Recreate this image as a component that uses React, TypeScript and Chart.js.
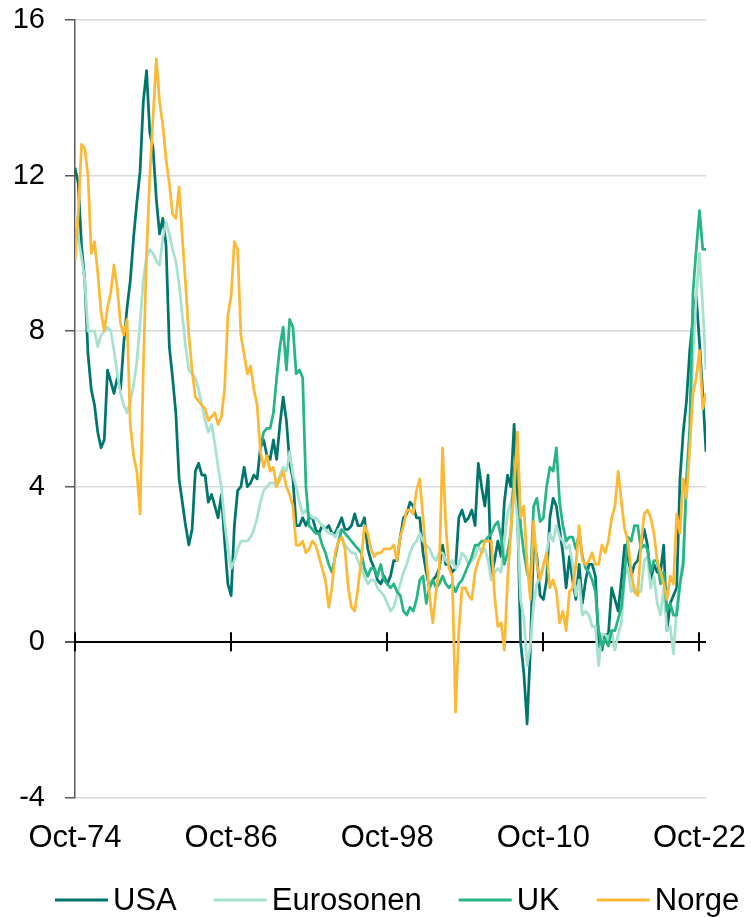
import React, { useEffect, useRef } from "react";
import { Chart, registerables } from "chart.js";

Chart.register(...registerables);

const FONT = '"Liberation Sans", Arial, Helvetica, sans-serif';

// x axis: months counted from Oct-74; series sampled quarterly (Oct, Jan, Apr, Jul)
const tickLabels = ["Oct-74", "Oct-86", "Oct-98", "Oct-10", "Oct-22"];
const tickMonths = [0, 144, 288, 432, 576];
const lastMonth = 582; // Apr-23
const stepMonths = 3;
const startMonth = 0; // Oct-74
const ukStartMonth = 171; // Jan-89

const seriesNames = ["USA", "Eurosonen", "UK", "Norge"];
const seriesColors = ["#00756d", "#a6e1d1", "#26b585", "#fdb935"];

// Inflation, % y/y, quarterly from Oct-74
const usa = [
  12.2, 11.8, 10.2, 9.3,
  7.4, 6.5, 6.1, 5.4,
  5.0, 5.2, 7.0, 6.7,
  6.4, 6.8, 6.5, 7.7,
  8.6, 9.3, 10.4, 11.3,
  12.1, 13.9, 14.7, 13.1,
  12.7, 11.4, 10.5, 10.9,
  10.2, 7.6, 6.8, 5.9,
  4.2, 3.6, 3.0, 2.5,
  2.9, 4.4, 4.6, 4.3,
  4.3, 3.6, 3.8, 3.5,
  3.2, 3.8, 2.6, 1.5,
  1.2, 3.0, 3.9, 4.0,
  4.5, 4.0, 4.1, 4.3,
  4.2, 5.0, 5.2, 4.8,
  4.7, 5.2, 4.7, 5.6,
  6.3, 5.7, 4.6, 4.2,
  3.0, 3.0, 3.2, 3.0,
  3.2, 3.2, 2.9, 2.8,
  3.0, 2.9, 3.0, 2.8,
  2.8, 3.0, 3.2, 2.9,
  2.9, 3.0, 3.3, 3.0,
  3.0, 3.2, 2.4, 2.1,
  1.9, 1.6, 1.5, 1.7,
  1.5, 1.7, 2.1, 2.1,
  2.7, 3.2, 3.3, 3.6,
  3.5, 3.2, 3.2, 2.3,
  1.8, 1.4, 1.6, 1.7,
  1.9, 2.5, 2.0, 2.0,
  1.8, 1.9, 3.2, 3.4,
  3.1, 3.2, 3.4, 3.0,
  4.6, 4.0, 3.5, 4.3,
  1.7, 2.1, 2.6, 2.2,
  3.6, 4.3, 4.0, 5.6,
  3.5, 0.0, -0.8, -2.1,
  -0.2, 2.6, 2.2, 1.2,
  1.1, 1.6, 3.2, 3.7,
  3.5, 2.9, 2.3, 1.4,
  2.2, 1.6, 1.1, 2.0,
  1.0, 1.6, 2.0, 2.0,
  1.7, -0.1, -0.2, 0.2,
  0.2, 1.4, 1.1, 0.8,
  1.6, 2.5, 2.2, 1.7,
  2.0, 2.1, 2.5, 2.9,
  2.5, 1.6, 2.0, 1.8,
  1.8, 2.5, 0.3, 1.0,
  1.2, 1.4, 4.2, 5.4,
  6.2, 7.5, 8.3, 8.9,
  7.7, 6.4, 4.9,
];

const eurosonen = [
  11.0, 10.4, 9.9, 9.3,
  8.0, 8.0, 8.0, 7.6,
  7.9, 8.0, 8.1, 8.0,
  7.5, 6.9, 6.4, 6.1,
  5.9, 6.2, 6.6, 7.2,
  8.2, 9.3, 9.9, 10.1,
  10.0, 9.8, 9.7, 10.4,
  10.8, 10.5, 10.1, 9.8,
  9.2, 8.4, 7.6, 7.0,
  6.9, 6.8, 6.5, 6.1,
  5.7, 5.4, 5.6, 5.1,
  4.5, 4.0, 3.1, 2.4,
  1.9, 2.1, 2.4, 2.6,
  2.6, 2.6, 2.7, 2.9,
  3.2, 3.6, 3.9, 4.0,
  4.1, 4.1, 4.0, 4.3,
  4.5, 4.4, 4.9, 4.3,
  4.0, 3.6, 3.3, 3.4,
  3.3, 3.2, 3.2, 3.1,
  3.0, 2.9, 2.8, 2.8,
  2.7, 2.9, 2.7, 2.5,
  2.4, 2.3, 2.3, 2.1,
  1.9, 1.7, 1.5, 1.6,
  1.6, 1.4, 1.3, 1.2,
  1.0, 0.8, 0.9, 1.2,
  1.5, 1.8, 2.0, 2.3,
  2.5, 2.6, 2.8, 2.6,
  2.5, 2.4, 2.2, 2.1,
  2.3, 2.3, 2.1, 2.0,
  2.1, 1.9, 2.0, 2.3,
  2.2, 2.0, 2.1, 2.2,
  2.5, 2.3, 2.4, 2.1,
  1.6, 1.8, 1.9, 1.8,
  2.6, 3.3, 3.6, 4.0,
  3.2, 1.1, 0.6, -0.6,
  -0.1, 1.0, 1.5, 1.7,
  1.9, 2.3, 2.8, 2.6,
  3.0, 2.7, 2.6, 2.4,
  2.5, 2.0, 1.2, 1.6,
  0.7, 0.8, 0.7, 0.4,
  0.4, -0.6, 0.2, 0.2,
  0.1, 0.3, -0.2, 0.2,
  0.5, 1.7, 1.9, 1.3,
  1.4, 1.3, 1.3, 2.1,
  2.2, 1.4, 1.7, 1.0,
  0.7, 1.4, 0.3, 0.4,
  -0.3, 0.9, 1.6, 2.2,
  4.1, 5.1, 7.4, 8.9,
  10.0, 8.6, 7.0,
];

// UK, quarterly from Jan-89
const uk = [
  5.0, 5.4, 5.5,
  5.5, 5.9, 6.8, 7.6,
  8.1, 7.0, 8.3, 8.1,
  6.9, 7.0, 6.8, 4.0,
  3.0, 2.9, 2.8, 2.8,
  2.5, 2.3, 2.0, 1.8,
  2.2, 2.6, 2.9, 2.8,
  2.7, 2.6, 2.5, 2.4,
  2.3, 1.9, 1.7, 1.9,
  1.9, 1.7, 2.0, 1.6,
  1.5, 1.4, 1.5, 1.3,
  1.2, 0.8, 0.7, 0.9,
  0.8, 1.1, 1.6, 1.7,
  1.0, 1.4, 1.6, 1.4,
  1.5, 1.7, 1.5, 1.4,
  1.5, 1.3, 1.5, 1.6,
  1.8, 2.0, 2.2, 2.5,
  2.5, 2.6, 2.6, 2.7,
  2.8, 3.0, 3.1, 2.7,
  2.0, 2.3, 2.8, 4.4,
  5.0, 3.0, 2.3, 1.8,
  1.5, 3.5, 3.7, 3.1,
  3.2, 4.0, 4.5, 4.4,
  5.0, 3.6, 3.0, 2.6,
  2.7, 2.7, 2.4, 2.8,
  2.2, 1.9, 1.8, 1.6,
  1.3, 0.3, -0.1, 0.1,
  -0.1, 0.3, 0.3, 0.6,
  0.9, 1.8, 2.7, 2.6,
  3.0, 3.0, 2.4, 2.5,
  2.4, 1.8, 2.1, 2.1,
  1.5, 1.8, 0.8, 1.0,
  0.7, 0.7, 1.5, 2.0,
  4.2, 5.5, 9.0, 10.1,
  11.1, 10.1, 10.1,
];

const norge = [
  9.8, 11.0, 12.8, 12.7,
  12.0, 10.0, 10.3, 9.5,
  8.5, 8.0, 8.6, 9.0,
  9.7, 9.1, 8.2, 7.9,
  8.3, 5.6, 4.8, 4.4,
  3.3, 7.0, 10.0, 12.0,
  13.5, 15.0, 13.9, 13.3,
  12.4, 11.8, 11.0, 10.9,
  11.7, 10.4, 9.2, 7.9,
  7.0, 6.3, 6.2, 6.1,
  6.0, 5.7, 5.8, 5.9,
  5.6, 5.8, 6.5, 8.4,
  8.9, 10.3, 10.1, 7.9,
  7.4, 6.9, 7.1, 6.5,
  6.1, 4.9, 4.5, 4.8,
  4.4, 4.5, 4.0, 4.2,
  4.4, 4.0, 3.8, 3.5,
  2.5, 2.5, 2.6, 2.3,
  2.4, 2.6, 2.5, 2.2,
  1.9, 1.6, 0.9, 1.4,
  2.3, 2.6, 2.7, 2.4,
  1.4, 0.9, 0.8, 1.4,
  2.1, 3.0, 2.8, 2.4,
  2.2, 2.3, 2.3, 2.4,
  2.4, 2.4, 2.5, 2.1,
  2.7, 3.0, 3.4, 3.4,
  3.3, 3.9, 4.2, 3.2,
  2.2, 1.2, 0.5, 1.3,
  1.9, 5.0, 3.0, 1.9,
  1.7, -1.8, 0.3, 1.4,
  1.4, 1.2, 1.1, 1.8,
  2.1, 2.3, 2.6, 2.6,
  2.6, 1.2, 0.4, 0.5,
  -0.2, 1.6, 2.9, 3.9,
  5.4, 3.2, 3.5, 2.0,
  1.1, 3.1, 2.0, 1.6,
  2.0, 2.3, 1.4, 1.6,
  1.3, 0.5, 0.8, 0.3,
  1.3, 1.4, 2.0, 3.0,
  2.1, 2.0, 2.1, 2.3,
  2.0, 2.0, 2.5, 2.3,
  2.6, 3.2, 3.5, 4.4,
  3.6, 2.9, 2.6, 1.8,
  1.3, 1.2, 2.5, 3.3,
  3.4, 3.2, 2.8, 2.1,
  1.8, 1.5, 1.1, 1.7,
  1.5, 3.3, 2.8, 4.2,
  3.7, 5.0, 6.4, 6.8,
  7.5, 6.0, 6.4,
];

const toPoints = (vals: number[], start: number) =>
  vals.map((y, i) => ({ x: start + i * stepMonths, y }));

const zeroTicks = {
  id: "zeroTicks",
  afterDatasetsDraw(chart: any) {
    const { ctx } = chart;
    const xs = chart.scales.x;
    const ys = chart.scales.y;
    const y0 = ys.getPixelForValue(0);
    ctx.save();
    ctx.strokeStyle = "#000";
    ctx.lineWidth = 2;
    tickMonths.forEach((m) => {
      const px = Math.round(xs.getPixelForValue(m));
      ctx.beginPath();
      ctx.moveTo(px, y0 - 10);
      ctx.lineTo(px, y0 + 9);
      ctx.stroke();
    });
    ctx.restore();
  },
};

const lineLegend = {
  id: "lineLegend",
  afterDraw(chart: any) {
    const { ctx, chartArea } = chart;
    ctx.save();
    ctx.font = `31px ${FONT}`;
    ctx.textBaseline = "middle";
    ctx.textAlign = "left";
    const lineLen = 53;
    const gap = 5;
    const spacing = 37;
    let x = chartArea.left - 20;
    const y = chart.height - 17;
    chart.data.datasets.forEach((ds: any) => {
      ctx.strokeStyle = ds.borderColor;
      ctx.lineWidth = 3;
      ctx.beginPath();
      ctx.moveTo(x, y);
      ctx.lineTo(x + lineLen, y);
      ctx.stroke();
      ctx.fillStyle = "#000";
      ctx.fillText(ds.label, x + lineLen + gap, y + 1);
      x += lineLen + gap + ctx.measureText(ds.label).width + spacing;
    });
    ctx.restore();
  },
};

export default function App() {
  const ref = useRef<HTMLCanvasElement | null>(null);

  useEffect(() => {
    document.body.style.margin = "0";
    if (!ref.current) return;
    const starts = [startMonth, startMonth, ukStartMonth, startMonth];
    const values = [usa, eurosonen, uk, norge];
    const chart = new Chart(ref.current, {
      type: "line",
      data: {
        datasets: seriesNames.map((name, k) => ({
          label: name,
          data: toPoints(values[k], starts[k]),
          borderColor: seriesColors[k],
          backgroundColor: seriesColors[k],
          borderWidth: 2.75,
          pointRadius: 0,
          tension: 0,
          fill: false,
          order: 4 - k,
        })),
      },
      options: {
        animation: false,
        responsive: false,
        maintainAspectRatio: false,
        layout: { padding: { top: 20, right: 45, bottom: 38, left: 0 } },
        elements: { line: { borderJoinStyle: "round" } },
        plugins: {
          legend: { display: false },
          tooltip: { enabled: false },
        },
        scales: {
          x: {
            type: "linear",
            min: 0,
            max: lastMonth,
            afterBuildTicks: (s: any) => {
              s.ticks = tickMonths.map((v) => ({ value: v }));
            },
            afterFit: (s: any) => {
              s.paddingLeft = 0;
              s.paddingRight = 0;
            },
            ticks: {
              autoSkip: false,
              maxRotation: 0,
              minRotation: 0,
              padding: 22,
              color: "#000",
              font: { family: FONT, size: 31 },
              callback: (v: any) => {
                const i = tickMonths.indexOf(Number(v));
                return i >= 0 ? tickLabels[i] : "";
              },
            },
            grid: { display: false, drawTicks: false },
            border: { display: false },
          },
          y: {
            min: -4,
            max: 16,
            afterFit: (s: any) => {
              s.width = 75;
              s.paddingTop = 0;
              s.paddingBottom = 0;
            },
            ticks: {
              stepSize: 4,
              padding: 20,
              color: "#000",
              font: { family: FONT, size: 29 },
            },
            grid: {
              color: (c: any) => (c.tick && c.tick.value === 0 ? "#000" : "#d9d9d9"),
              lineWidth: (c: any) => (c.tick && c.tick.value === 0 ? 2 : 1.5),
              tickColor: "#595959",
              tickLength: 10,
              drawTicks: true,
            },
            border: { color: "#595959", width: 1.5 },
          },
        },
      },
      plugins: [zeroTicks, lineLegend],
    } as any);
    return () => chart.destroy();
  }, []);

  return (
    <div style={{ width: 751, height: 917 }}>
      <canvas ref={ref} width={751} height={917} style={{ display: "block" }} />
    </div>
  );
}
